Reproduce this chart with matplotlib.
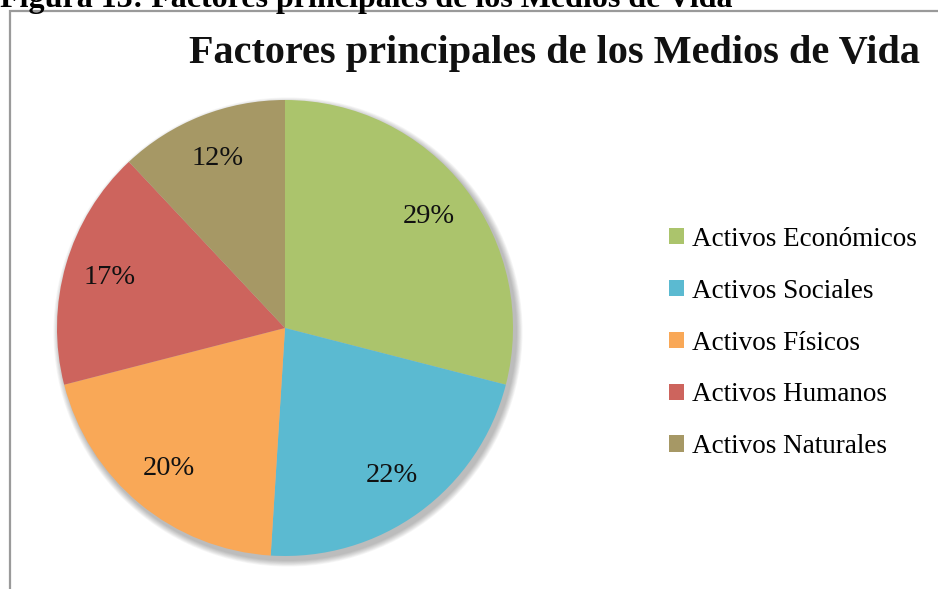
import matplotlib.pyplot as plt
from matplotlib.patches import Circle, Rectangle

categorias = ['Activos Económicos', 'Activos Sociales', 'Activos Físicos',
              'Activos Humanos', 'Activos Naturales']
porcentajes = [29, 22, 20, 17, 12]
colores = ['#ABC46C', '#5BBAD1', '#F9A857', '#CD645D', '#A69865']

W, H = 938, 589


def main():
    fig = plt.figure(figsize=(W / 100, H / 100), dpi=100)
    ax = fig.add_axes([0, 0, 1, 1])

    cx, cy, r = 285, H - 328, 228

    # sombra suave detrás del pastel
    for i in range(8):
        ax.add_patch(Circle((cx + 3, cy - 4), r + 1 + i * 0.8,
                            facecolor='#000000', alpha=0.035,
                            edgecolor='none', zorder=0))

    wedges, texts, autotexts = ax.pie(
        porcentajes, colors=colores, startangle=90, counterclock=False,
        center=(cx, cy), radius=r, autopct='%1.0f%%', pctdistance=0.8,
        wedgeprops=dict(linewidth=0, edgecolor='none'),
        textprops=dict(fontsize=20.5, family='Liberation Serif', color='#111111'),
    )
    for w in wedges:
        w.set_zorder(2)
    for t in autotexts:
        t.set_zorder(3)

    ax.set_xlim(0, W)
    ax.set_ylim(0, H)
    ax.set_aspect('equal')
    ax.axis('off')

    # marco del gráfico
    fig.patches.append(Rectangle((10 / W, -0.1), 1.2, (H - 11) / H + 0.1,
                                 transform=fig.transFigure, fill=False,
                                 edgecolor='#9A9A9A', linewidth=1.6))

    fig.text(0, 1 - 7 / H, 'Figura 13: Factores principales de los Medios de Vida',
             fontsize=23, fontweight='bold', family='Liberation Serif',
             ha='left', va='baseline')

    fig.text(554 / W, 1 - 53 / H, 'Factores principales de los Medios de Vida',
             fontsize=29, fontweight='bold', family='Liberation Serif',
             ha='center', va='center', color='#111111')

    ax.legend(wedges, categorias, loc='center left',
              bbox_to_anchor=(669 / W, 1 - 343 / H), frameon=False,
              prop=dict(family='Liberation Serif', size=19.5),
              handlelength=0.55, handleheight=0.55, handletextpad=0.3,
              labelspacing=0.99, borderpad=0, borderaxespad=0)

    fig.savefig('out.png', dpi=100)


if __name__ == "__main__":
    main()
